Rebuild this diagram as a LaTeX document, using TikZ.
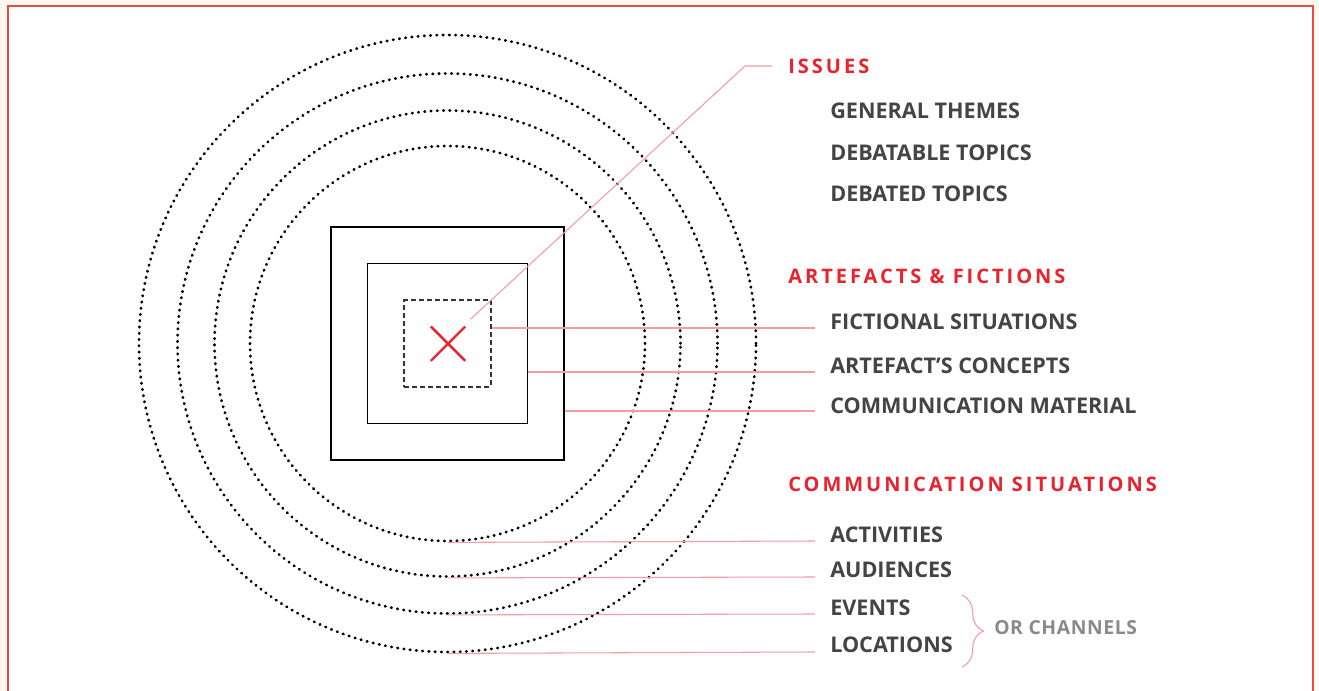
\documentclass[tikz,border=0pt]{standalone}
\usepackage{fontspec}
\setmainfont{Open Sans}
\newfontfamily\headfont[LetterSpace=15]{Open Sans}
\newfontfamily\notefont[LetterSpace=3]{Open Sans}
\usepackage{tikz}
\usetikzlibrary{positioning, shapes.misc, decorations.pathreplacing}

\definecolor{accent}{HTML}{E8232E}
\definecolor{leadpink}{HTML}{F29CA4}
\definecolor{ink}{HTML}{444444}
\definecolor{mute}{HTML}{8A8A8A}
\definecolor{cream}{HTML}{FDF7EF}
\definecolor{framered}{HTML}{E84A40}

\begin{document}
\begin{tikzpicture}[
    x=0.75pt, y=-0.75pt,
    ring/.style={circle, draw, inner sep=0pt, minimum size=#1, line width=2.1pt,
        dash pattern=on 0.4pt off 4.3pt, line cap=round},
    sq/.style={rectangle, draw, inner sep=0pt, minimum size=#1},
    leader/.style={draw=leadpink, line width=0.8pt},
    head/.style={anchor=west, inner sep=0pt, text=accent, font=\headfont\bfseries\fontsize{15}{17}\selectfont},
    item/.style={anchor=west, inner sep=0pt, text=ink, font=\bfseries\fontsize{16.2}{18}\selectfont}
]
% page and frame
\useasboundingbox (0,0) rectangle (1319,691);
\clip (0,0) rectangle (1319,691);
\fill[cream] (0,0) rectangle (1319,691);
\draw[framered, fill=white, line width=1.5pt] (7.5,6.5) rectangle (1313,710);

% rings and boxes
\coordinate (c) at (447.5,343.5);
\node[ring=296.25pt] (ringA) at (c) {};
\node[ring=349.5pt] (ringB) at (c) {};
\node[ring=405pt] (ringC) at (c) {};
\node[ring=462.75pt] (ringD) at (c) {};
\node[sq=175.1pt, line width=1.5pt] (boxOuter) at (c) {};
\node[sq=120pt, line width=1.2pt] (boxMid) at (c) {};
\node[sq=64.8pt, line width=1.3pt, dash pattern=on 3.5pt off 2.5pt, draw=black!80] (boxCore) at (c) {};
\node[cross out, draw=accent, line width=1.8pt, minimum size=24pt, inner sep=0pt] (mark) at (448,343.7) {};

% labels
\node[head] (issues) at (788,66) {ISSUES};
\node[item] (themes) at (830,111) {GENERAL THEMES};
\node[item] (debatable) at (830,153) {DEBATABLE TOPICS};
\node[item] (debated) at (830,194) {DEBATED TOPICS};
\node[head] (artefacts) at (788,276) {ARTEFACTS \& FICTIONS};
\node[item] (fictional) at (830,322) {FICTIONAL SITUATIONS};
\node[item] (concepts) at (830,366) {ARTEFACT’S CONCEPTS};
\node[item] (material) at (830,406) {COMMUNICATION MATERIAL};
\node[head] (situations) at (788,484) {COMMUNICATION SITUATIONS};
\node[item] (activities) at (830,535) {ACTIVITIES};
\node[item] (audiences) at (830,570) {AUDIENCES};
\node[item] (events) at (830,608) {EVENTS};
\node[item] (locations) at (830,645) {LOCATIONS};
\node[anchor=west, inner sep=0pt, text=mute, font=\notefont\bfseries\fontsize{14.5}{16}\selectfont] (channels) at (994,628) {OR CHANNELS};

% leader lines
\coordinate (issuesTip) at (470.7,319);
\coordinate (issuesBend) at (745,66);
\coordinate (issuesEnd) at (772,66);
\draw[leader] (issuesTip) -- (issuesBend) -- (issuesEnd);
\coordinate (fictEnd) at (815,328);
\coordinate (concEnd) at (815,372);
\coordinate (matEnd) at (815,411);
\draw[leader] (boxCore.east |- fictEnd) -- (fictEnd);
\draw[leader] (boxMid.east |- concEnd) -- (concEnd);
\draw[leader] (boxOuter.east |- matEnd) -- (matEnd);
\coordinate (actEnd) at (815,541);
\coordinate (audEnd) at (815,577);
\coordinate (evEnd) at (815,614);
\coordinate (locEnd) at (815,652);
\draw[leader] (ringA.south) -- (actEnd);
\draw[leader] (ringB.south) -- (audEnd);
\draw[leader] (ringC.south) -- (evEnd);
\draw[leader] (ringD.south) -- (locEnd);
\coordinate (braceTop) at (962,595);
\coordinate (braceBot) at (962,667);
\draw[leader, decorate, decoration={brace, amplitude=16pt}] (braceTop) -- (braceBot);
\end{tikzpicture}
\end{document}
